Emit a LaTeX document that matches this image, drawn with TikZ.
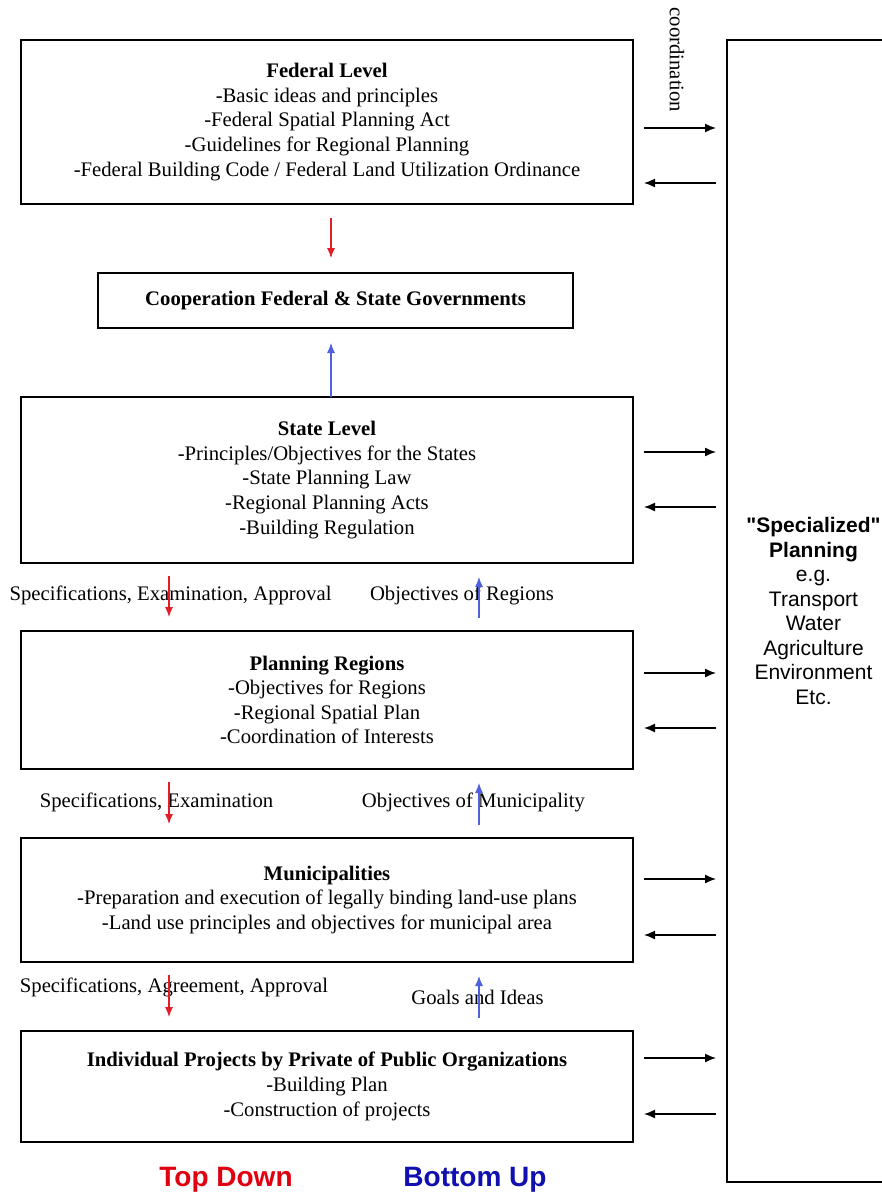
\documentclass[tikz,border=0pt]{standalone}
\usepackage{fontspec}
\setmainfont{Liberation Serif}
\newfontfamily\sansfnt{Liberation Sans}
\usetikzlibrary{positioning,arrows.meta}

\definecolor{tdred}{RGB}{225,30,40}
\definecolor{bublue}{RGB}{80,96,224}
\definecolor{tdtext}{RGB}{224,0,16}
\definecolor{butext}{RGB}{16,16,176}

\tikzset{
  levelbox/.style={draw, line width=1.6pt, inner sep=0pt, outer sep=0pt, align=center,
    font=\fontsize{20.7}{24.6}\selectfont},
  flowlabel/.style={inner sep=0pt, font=\fontsize{20.7}{24.6}\selectfont},
  coordarrow/.style={-{Latex[length=11pt,width=9pt]}, line width=1.4pt, shorten <=11pt, shorten >=11pt},
  downarrow/.style={-{Latex[length=10pt,width=8pt]}, tdred, line width=1.1pt, shorten <=13pt, shorten >=14pt},
  uparrow/.style={-{Latex[length=10pt,width=8pt]}, bublue, line width=1.1pt, shorten <=13pt, shorten >=14pt},
  legend/.style={inner sep=0pt, font=\sansfnt\bfseries\fontsize{28}{32}\selectfont}
}

\begin{document}
\begin{tikzpicture}[x=1pt, y=-1pt]

\path[use as bounding box, clip] (0,0) rectangle (882,1196);

% levels
\node[levelbox, minimum width=612pt, minimum height=164pt] (fed) at (327,122)
  {\textbf{Federal Level}\\-Basic ideas and principles\\-Federal Spatial Planning Act\\
   -Guidelines for Regional Planning\\-Federal Building Code / Federal Land Utilization Ordinance};
\node[levelbox, minimum width=475pt, minimum height=55pt] (coop) at (335.5,300.5)
  {\textbf{Cooperation Federal \& State Governments}};
\node[levelbox, minimum width=612pt, minimum height=166pt] (state) at (327,480)
  {\textbf{State Level}\\-Principles/Objectives for the States\\-State Planning Law\\
   -Regional Planning Acts\\-Building Regulation};
\node[levelbox, minimum width=612pt, minimum height=138pt] (plan) at (327,700)
  {\textbf{Planning Regions}\\-Objectives for Regions\\-Regional Spatial Plan\\-Coordination of Interests};
\node[levelbox, minimum width=612pt, minimum height=124pt] (muni) at (327,900)
  {\textbf{Municipalities}\\-Preparation and execution of legally binding land-use plans\\
   -Land use principles and objectives for municipal area};
\node[levelbox, minimum width=612pt, minimum height=111pt] (indiv) at (327,1086.5)
  {\textbf{Individual Projects by Private of Public Organizations}\\-Building Plan\\-Construction of projects};

\node[levelbox, font=\sansfnt\fontsize{21}{24.5}\selectfont, minimum width=173pt, minimum height=1142pt] (spec) at (813.5,611)
  {\textbf{"Specialized"}\\\textbf{Planning}\\e.g.\\Transport\\Water\\Agriculture\\Environment\\Etc.};

% labels
\node[flowlabel, rotate=-90] (coordlbl) at (677,60) {coordination};
\node[flowlabel] (specA) at (170.5,595) {Specifications, Examination, Approval};
\node[flowlabel] (objA) at (462,595) {Objectives of Regions};
\node[flowlabel] (specB) at (156.5,802) {Specifications, Examination};
\node[flowlabel] (objB) at (473.5,802) {Objectives of Municipality};
\node[flowlabel] (specC) at (174,987) {Specifications, Agreement, Approval};
\node[flowlabel] (objC) at (477.5,997) {Goals and Ideas};

% top down / bottom up
\draw[downarrow, shorten <=14pt, shorten >=15pt] ([xshift=4pt]fed.south) -- ([xshift=-4.5pt]coop.north);
\draw[uparrow, shorten <=0pt, shorten >=15pt] ([xshift=4pt]state.north) -- ([xshift=-4.5pt]coop.south);
\foreach \up/\lo in {state/plan, plan/muni, muni/indiv}{
  \draw[downarrow] (169,0 |- \up.south) -- (169,0 |- \lo.north);
  \draw[uparrow] (479,0 |- \lo.north) -- (479,0 |- \up.south);
}

% coordination with specialized planning
\foreach \b/\ya/\yb in {fed/128/183, state/452/507, plan/673/728, muni/879/935, indiv/1058/1114}{
  \draw[coordarrow] (\b.east |- 0,\ya) -- (spec.west |- 0,\ya);
  \draw[coordarrow] (spec.west |- 0,\yb) -- (\b.east |- 0,\yb);
}

\node[legend, tdtext] (topdown) at (226,1180) {Top Down};
\node[legend, butext] (bottomup) at (475,1180) {Bottom Up};

\end{tikzpicture}
\end{document}
